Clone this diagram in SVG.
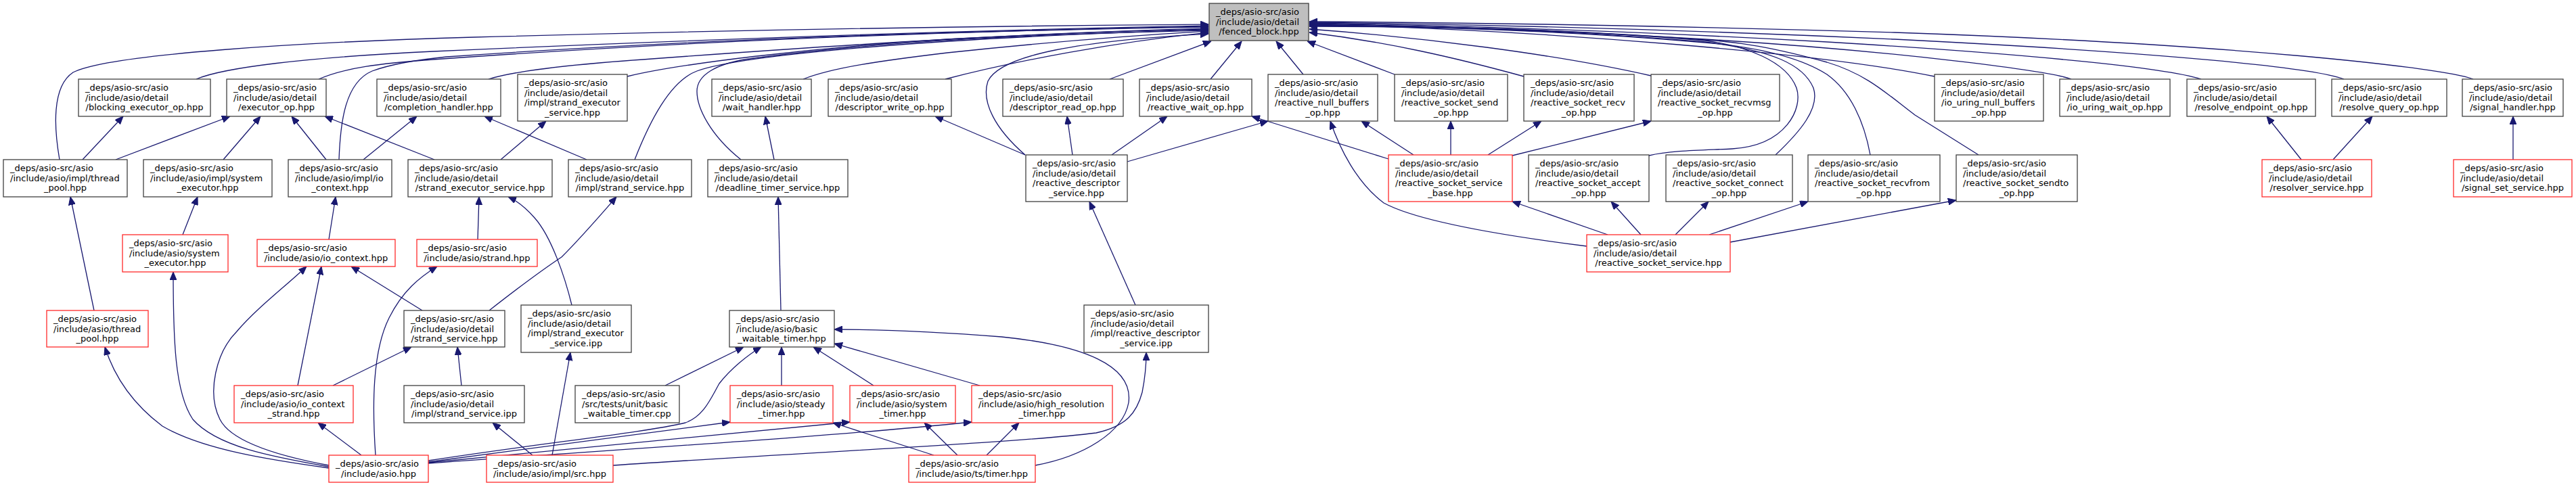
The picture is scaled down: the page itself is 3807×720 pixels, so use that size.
<svg xmlns="http://www.w3.org/2000/svg" width="3807" height="720" viewBox="0 0 3807 720">
<defs>
<marker id="ah" markerUnits="userSpaceOnUse" markerWidth="12" markerHeight="10" refX="12" refY="5" orient="auto"><path d="M0,0 L12,5 L0,10 z" fill="#191970" stroke="#191970" stroke-width="1"/></marker>
</defs>
<style>
rect{fill:#fff;stroke:#404040;stroke-width:1.3}
.r rect{stroke:#ff2a2a}
.root rect{fill:#bfbfbf}
text{font-family:"DejaVu Sans",sans-serif;font-size:13px;fill:#000}
.m{text-anchor:middle}
#edges path{fill:none;stroke:#191970;stroke-width:1.3;marker-end:url(#ah)}
</style>
<rect x="0" y="0" width="3807" height="720" style="fill:#fff;stroke:none"/>
<g id="edges">
<path d="M88,236 C80,190 76,128 108,107 C160,80 450,62 700,55 C1100,44 1500,38 1786,36"/>
<path d="M290,117 C330,100 450,85 640,76 C1000,60 1400,45 1786,38"/>
<path d="M471,117 C510,100 560,94 640,88 C1000,62 1400,46 1786,39"/>
<path d="M501,236 C503,180 510,122 550,105 C580,94 620,88 660,84 C1000,60 1400,46 1786,40"/>
<path d="M722,117 C760,105 850,95 950,88 C1300,62 1550,48 1786,42"/>
<path d="M927,113 C1000,95 1200,70 1400,58 C1550,50 1680,45 1786,43"/>
<path d="M938,236 C960,180 990,120 1030,105 C1100,80 1400,55 1786,44"/>
<path d="M1095,236 C1050,200 1030,160 1030,135 C1030,110 1060,95 1100,88 C1300,60 1550,50 1786,45"/>
<path d="M1187,117 C1230,100 1300,90 1400,78 C1550,62 1680,52 1786,46"/>
<path d="M1397,117 C1500,90 1650,62 1786,48"/>
<path d="M1515,229 C1470,190 1450,150 1460,120 C1480,80 1600,60 1786,50"/>
<path d="M1640,117 L1790,61"/>
<path d="M1789,117 L1835,61"/>
<path d="M1926,110 L1886,61"/>
<path d="M2061,110 L1932,61"/>
<path d="M2252,113 C2150,85 2050,62 1935,48"/>
<path d="M2440,112 C2300,80 2100,55 1935,43"/>
<path d="M2437,230 C2470,222 2520,222 2560,220 C2640,215 2665,160 2655,130 C2640,90 2580,68 2520,60 C2300,42 2100,38 1935,37"/>
<path d="M2624,229 C2660,195 2690,160 2680,130 C2665,95 2620,75 2520,62 C2300,44 2100,38 1935,38"/>
<path d="M2764,229 C2755,180 2735,135 2700,110 C2660,85 2600,70 2520,63 C2300,44 2100,39 1935,39"/>
<path d="M2924,229 L2830,170 C2790,140 2760,110 2700,92 C2620,70 2570,62 2520,59 C2300,42 2100,38 1935,38"/>
<path d="M2859,113 C2700,80 2300,45 1935,36"/>
<path d="M3061,117 C3030,105 2800,75 2520,58 C2300,45 2100,38 1935,35"/>
<path d="M3253,117 C3200,100 3000,80 2700,62 C2400,45 2100,37 1935,34"/>
<path d="M3464,117 C3420,100 3200,78 2800,58 C2400,40 2100,35 1935,33"/>
<path d="M3655,117 C3610,100 3300,65 2800,48 C2400,36 2100,33 1935,32"/>
<path d="M122,236 L182,172"/>
<path d="M171,236 L340,172"/>
<path d="M330,236 L385,172"/>
<path d="M482,236 L431,172"/>
<path d="M642,236 L480,172"/>
<path d="M537,236 L616,172"/>
<path d="M867,236 L716,172"/>
<path d="M740,236 L807,179"/>
<path d="M1144,236 L1131,172"/>
<path d="M1515,229 L1382,172"/>
<path d="M1585,229 L1577,172"/>
<path d="M1643,229 L1725,172"/>
<path d="M1666,239 L1874,179"/>
<path d="M2052,235 L1850,172"/>
<path d="M2089,229 L2012,179"/>
<path d="M2144,229 L2144,179"/>
<path d="M2199,229 L2278,179"/>
<path d="M2235,230 L2440,179"/>
<path d="M2376,347 L2235,298"/>
<path d="M2425,347 L2381,298"/>
<path d="M2476,347 L2525,298"/>
<path d="M2526,347 L2672,298"/>
<path d="M2557,358 L2891,296"/>
<path d="M2345,364 C2250,352 2100,330 2045,300 C2005,270 1980,220 1966,179"/>
<path d="M3401,236 L3350,172"/>
<path d="M3448,236 L3506,172"/>
<path d="M3714,236 L3714,172"/>
<path d="M139,459 L104,291"/>
<path d="M270,347 L292,291"/>
<path d="M486,354 L496,291"/>
<path d="M706,354 L708,291"/>
<path d="M845,451 C835,410 815,350 790,322 C775,305 760,295 751,291"/>
<path d="M723,459 C760,430 800,400 830,380 C860,350 890,315 911,291"/>
<path d="M624,459 L519,394"/>
<path d="M440,570 L475,394"/>
<path d="M492,570 L608,513"/>
<path d="M534,673 L470,625"/>
<path d="M486,692 C400,680 300,665 240,630 C200,600 170,560 155,513"/>
<path d="M486,690 C400,675 320,660 285,620 C258,580 256,500 256,402"/>
<path d="M486,688 C400,672 340,650 325,620 C305,580 320,520 350,490 C380,455 420,425 453,394"/>
<path d="M555,673 C550,600 550,520 575,470 C595,430 620,410 646,394"/>
<path d="M682,570 L676,513"/>
<path d="M787,673 L728,625"/>
<path d="M816,673 L843,521"/>
<path d="M1154,459 L1150,291"/>
<path d="M983,570 L1099,513"/>
<path d="M633,681 C800,655 950,640 1013,625 C1040,615 1050,590 1063,567 C1080,545 1105,525 1125,513"/>
<path d="M1155,570 L1155,513"/>
<path d="M1291,570 L1202,513"/>
<path d="M1448,570 L1233,508"/>
<path d="M1530,688 C1600,675 1660,640 1668,595 C1675,540 1600,510 1480,498 C1380,490 1300,487 1233,487"/>
<path d="M633,683 L1079,624"/>
<path d="M633,684 C900,660 1100,640 1256,624"/>
<path d="M633,685 C900,665 1200,648 1436,624"/>
<path d="M1380,673 L1231,625"/>
<path d="M1415,673 L1366,625"/>
<path d="M1458,673 L1506,625"/>
<path d="M906,688 C1200,668 1500,655 1620,640 C1665,630 1680,610 1688,580 C1693,555 1694,540 1694,521"/>
<path d="M1678,451 L1610,298"/>
</g>
<g id="root" class="root"><rect x="1787" y="5" width="147" height="55"/><text x="1797" y="22">_deps/asio-src/asio</text><text x="1797" y="37">/include/asio/detail</text><text class="m" x="1860.5" y="51">/fenced_block.hpp</text></g>
<g id="n_blocking"><rect x="116" y="117" width="195" height="55"/><text x="126" y="134">_deps/asio-src/asio</text><text x="126" y="149">/include/asio/detail</text><text class="m" x="213.5" y="163">/blocking_executor_op.hpp</text></g>
<g id="n_executor_op"><rect x="335" y="117" width="147" height="55"/><text x="345" y="134">_deps/asio-src/asio</text><text x="345" y="149">/include/asio/detail</text><text class="m" x="408.5" y="163">/executor_op.hpp</text></g>
<g id="n_completion"><rect x="557" y="117" width="183" height="55"/><text x="567" y="134">_deps/asio-src/asio</text><text x="567" y="149">/include/asio/detail</text><text class="m" x="648.5" y="163">/completion_handler.hpp</text></g>
<g id="n_impl_strand_exec_svc_hpp"><rect x="765" y="110" width="162" height="69"/><text x="775" y="127">_deps/asio-src/asio</text><text x="775" y="141.7">/include/asio/detail</text><text x="775" y="156.4">/impl/strand_executor</text><text class="m" x="846" y="171">_service.hpp</text></g>
<g id="n_wait_handler"><rect x="1052" y="117" width="147" height="55"/><text x="1062" y="134">_deps/asio-src/asio</text><text x="1062" y="149">/include/asio/detail</text><text class="m" x="1125.5" y="163">/wait_handler.hpp</text></g>
<g id="n_desc_write"><rect x="1224" y="117" width="182" height="55"/><text x="1234" y="134">_deps/asio-src/asio</text><text x="1234" y="149">/include/asio/detail</text><text class="m" x="1315" y="163">/descriptor_write_op.hpp</text></g>
<g id="n_desc_read"><rect x="1482" y="117" width="178" height="55"/><text x="1492" y="134">_deps/asio-src/asio</text><text x="1492" y="149">/include/asio/detail</text><text class="m" x="1571" y="163">/descriptor_read_op.hpp</text></g>
<g id="n_reactive_wait"><rect x="1684" y="117" width="166" height="55"/><text x="1694" y="134">_deps/asio-src/asio</text><text x="1694" y="149">/include/asio/detail</text><text class="m" x="1767" y="163">/reactive_wait_op.hpp</text></g>
<g id="n_null_buffers"><rect x="1874" y="110" width="162" height="69"/><text x="1884" y="127">_deps/asio-src/asio</text><text x="1884" y="141.7">/include/asio/detail</text><text x="1884" y="156.4">/reactive_null_buffers</text><text class="m" x="1955" y="171">_op.hpp</text></g>
<g id="n_send"><rect x="2061" y="110" width="167" height="69"/><text x="2071" y="127">_deps/asio-src/asio</text><text x="2071" y="141.7">/include/asio/detail</text><text x="2071" y="156.4">/reactive_socket_send</text><text class="m" x="2144.5" y="171">_op.hpp</text></g>
<g id="n_recv"><rect x="2252" y="110" width="163" height="69"/><text x="2262" y="127">_deps/asio-src/asio</text><text x="2262" y="141.7">/include/asio/detail</text><text x="2262" y="156.4">/reactive_socket_recv</text><text class="m" x="2333.5" y="171">_op.hpp</text></g>
<g id="n_recvmsg"><rect x="2440" y="110" width="190" height="69"/><text x="2450" y="127">_deps/asio-src/asio</text><text x="2450" y="141.7">/include/asio/detail</text><text x="2450" y="156.4">/reactive_socket_recvmsg</text><text class="m" x="2535" y="171">_op.hpp</text></g>
<g id="n_uring_null"><rect x="2859" y="110" width="161" height="69"/><text x="2869" y="127">_deps/asio-src/asio</text><text x="2869" y="141.7">/include/asio/detail</text><text x="2869" y="156.4">/io_uring_null_buffers</text><text class="m" x="2939.5" y="171">_op.hpp</text></g>
<g id="n_uring_wait"><rect x="3044" y="117" width="163" height="55"/><text x="3054" y="134">_deps/asio-src/asio</text><text x="3054" y="149">/include/asio/detail</text><text class="m" x="3125.5" y="163">/io_uring_wait_op.hpp</text></g>
<g id="n_resolve_ep"><rect x="3232" y="117" width="190" height="55"/><text x="3242" y="134">_deps/asio-src/asio</text><text x="3242" y="149">/include/asio/detail</text><text class="m" x="3327" y="163">/resolve_endpoint_op.hpp</text></g>
<g id="n_resolve_q"><rect x="3446" y="117" width="170" height="55"/><text x="3456" y="134">_deps/asio-src/asio</text><text x="3456" y="149">/include/asio/detail</text><text class="m" x="3531" y="163">/resolve_query_op.hpp</text></g>
<g id="n_signal_handler"><rect x="3639" y="117" width="149" height="55"/><text x="3649" y="134">_deps/asio-src/asio</text><text x="3649" y="149">/include/asio/detail</text><text class="m" x="3713.5" y="163">/signal_handler.hpp</text></g>
<g id="n_impl_thread_pool"><rect x="5" y="236" width="183" height="55"/><text x="15" y="253">_deps/asio-src/asio</text><text x="15" y="268">/include/asio/impl/thread</text><text class="m" x="96.5" y="282">_pool.hpp</text></g>
<g id="n_impl_system_exec"><rect x="212" y="236" width="190" height="55"/><text x="222" y="253">_deps/asio-src/asio</text><text x="222" y="268">/include/asio/impl/system</text><text class="m" x="307" y="282">_executor.hpp</text></g>
<g id="n_impl_io_context"><rect x="426" y="236" width="153" height="55"/><text x="436" y="253">_deps/asio-src/asio</text><text x="436" y="268">/include/asio/impl/io</text><text class="m" x="502.5" y="282">_context.hpp</text></g>
<g id="n_strand_exec_svc"><rect x="603" y="236" width="213" height="55"/><text x="613" y="253">_deps/asio-src/asio</text><text x="613" y="268">/include/asio/detail</text><text class="m" x="709.5" y="282">/strand_executor_service.hpp</text></g>
<g id="n_impl_strand_svc_hpp"><rect x="840" y="236" width="182" height="55"/><text x="850" y="253">_deps/asio-src/asio</text><text x="850" y="268">/include/asio/detail</text><text class="m" x="931" y="282">/impl/strand_service.hpp</text></g>
<g id="n_deadline"><rect x="1046" y="236" width="207" height="55"/><text x="1056" y="253">_deps/asio-src/asio</text><text x="1056" y="268">/include/asio/detail</text><text class="m" x="1149.5" y="282">/deadline_timer_service.hpp</text></g>
<g id="n_reactive_desc_svc"><rect x="1516" y="229" width="150" height="69"/><text x="1526" y="246">_deps/asio-src/asio</text><text x="1526" y="260.7">/include/asio/detail</text><text x="1526" y="275.4">/reactive_descriptor</text><text class="m" x="1591" y="290">_service.hpp</text></g>
<g id="n_rs_service_base" class="r"><rect x="2052" y="229" width="183" height="69"/><text x="2062" y="246">_deps/asio-src/asio</text><text x="2062" y="260.7">/include/asio/detail</text><text x="2062" y="275.4">/reactive_socket_service</text><text class="m" x="2143.5" y="290">_base.hpp</text></g>
<g id="n_accept"><rect x="2259" y="229" width="178" height="69"/><text x="2269" y="246">_deps/asio-src/asio</text><text x="2269" y="260.7">/include/asio/detail</text><text x="2269" y="275.4">/reactive_socket_accept</text><text class="m" x="2348" y="290">_op.hpp</text></g>
<g id="n_connect"><rect x="2462" y="229" width="187" height="69"/><text x="2472" y="246">_deps/asio-src/asio</text><text x="2472" y="260.7">/include/asio/detail</text><text x="2472" y="275.4">/reactive_socket_connect</text><text class="m" x="2555.5" y="290">_op.hpp</text></g>
<g id="n_recvfrom"><rect x="2672" y="229" width="195" height="69"/><text x="2682" y="246">_deps/asio-src/asio</text><text x="2682" y="260.7">/include/asio/detail</text><text x="2682" y="275.4">/reactive_socket_recvfrom</text><text class="m" x="2769.5" y="290">_op.hpp</text></g>
<g id="n_sendto"><rect x="2891" y="229" width="179" height="69"/><text x="2901" y="246">_deps/asio-src/asio</text><text x="2901" y="260.7">/include/asio/detail</text><text x="2901" y="275.4">/reactive_socket_sendto</text><text class="m" x="2980.5" y="290">_op.hpp</text></g>
<g id="n_resolver_svc" class="r"><rect x="3343" y="236" width="162" height="55"/><text x="3353" y="253">_deps/asio-src/asio</text><text x="3353" y="268">/include/asio/detail</text><text class="m" x="3424" y="282">/resolver_service.hpp</text></g>
<g id="n_signal_set_svc" class="r"><rect x="3626" y="236" width="175" height="55"/><text x="3636" y="253">_deps/asio-src/asio</text><text x="3636" y="268">/include/asio/detail</text><text class="m" x="3713.5" y="282">/signal_set_service.hpp</text></g>
<g id="n_system_executor" class="r"><rect x="181" y="347" width="156" height="55"/><text x="191" y="364">_deps/asio-src/asio</text><text x="191" y="379">/include/asio/system</text><text class="m" x="259" y="393">_executor.hpp</text></g>
<g id="n_io_context" class="r"><rect x="380" y="354" width="204" height="40"/><text x="390" y="371">_deps/asio-src/asio</text><text class="m" x="482" y="386">/include/asio/io_context.hpp</text></g>
<g id="n_strand" class="r"><rect x="616" y="354" width="178" height="40"/><text x="626" y="371">_deps/asio-src/asio</text><text class="m" x="705" y="386">/include/asio/strand.hpp</text></g>
<g id="n_rs_service" class="r"><rect x="2345" y="347" width="212" height="55"/><text x="2355" y="364">_deps/asio-src/asio</text><text x="2355" y="379">/include/asio/detail</text><text class="m" x="2451" y="393">/reactive_socket_service.hpp</text></g>
<g id="n_thread_pool" class="r"><rect x="69" y="459" width="150" height="54"/><text x="79" y="476">_deps/asio-src/asio</text><text x="79" y="491">/include/asio/thread</text><text class="m" x="144" y="505">_pool.hpp</text></g>
<g id="n_strand_svc"><rect x="597" y="459" width="149" height="54"/><text x="607" y="476">_deps/asio-src/asio</text><text x="607" y="491">/include/asio/detail</text><text class="m" x="671.5" y="505">/strand_service.hpp</text></g>
<g id="n_impl_strand_exec_ipp"><rect x="770" y="451" width="163" height="70"/><text x="780" y="468">_deps/asio-src/asio</text><text x="780" y="482.7">/include/asio/detail</text><text x="780" y="497.4">/impl/strand_executor</text><text class="m" x="851.5" y="512">_service.ipp</text></g>
<g id="n_bwt"><rect x="1078" y="459" width="155" height="54"/><text x="1088" y="476">_deps/asio-src/asio</text><text x="1088" y="491">/include/asio/basic</text><text class="m" x="1155.5" y="505">_waitable_timer.hpp</text></g>
<g id="n_rds_ipp"><rect x="1602" y="451" width="184" height="70"/><text x="1612" y="468">_deps/asio-src/asio</text><text x="1612" y="482.7">/include/asio/detail</text><text x="1612" y="497.4">/impl/reactive_descriptor</text><text class="m" x="1694" y="512">_service.ipp</text></g>
<g id="n_io_context_strand" class="r"><rect x="346" y="570" width="176" height="55"/><text x="356" y="587">_deps/asio-src/asio</text><text x="356" y="602">/include/asio/io_context</text><text class="m" x="434" y="616">_strand.hpp</text></g>
<g id="n_impl_strand_svc_ipp"><rect x="597" y="570" width="178" height="55"/><text x="607" y="587">_deps/asio-src/asio</text><text x="607" y="602">/include/asio/detail</text><text class="m" x="686" y="616">/impl/strand_service.ipp</text></g>
<g id="n_unit_bwt"><rect x="850" y="570" width="154" height="55"/><text x="860" y="587">_deps/asio-src/asio</text><text x="860" y="602">/src/tests/unit/basic</text><text class="m" x="927" y="616">_waitable_timer.cpp</text></g>
<g id="n_steady" class="r"><rect x="1079" y="570" width="152" height="55"/><text x="1089" y="587">_deps/asio-src/asio</text><text x="1089" y="602">/include/asio/steady</text><text class="m" x="1155" y="616">_timer.hpp</text></g>
<g id="n_system_timer" class="r"><rect x="1256" y="570" width="156" height="55"/><text x="1266" y="587">_deps/asio-src/asio</text><text x="1266" y="602">/include/asio/system</text><text class="m" x="1334" y="616">_timer.hpp</text></g>
<g id="n_high_res" class="r"><rect x="1436" y="570" width="208" height="55"/><text x="1446" y="587">_deps/asio-src/asio</text><text x="1446" y="602">/include/asio/high_resolution</text><text class="m" x="1540" y="616">_timer.hpp</text></g>
<g id="n_asio" class="r"><rect x="486" y="673" width="147" height="40"/><text x="496" y="690">_deps/asio-src/asio</text><text class="m" x="559.5" y="705">/include/asio.hpp</text></g>
<g id="n_src" class="r"><rect x="719" y="673" width="187" height="40"/><text x="729" y="690">_deps/asio-src/asio</text><text class="m" x="812.5" y="705">/include/asio/impl/src.hpp</text></g>
<g id="n_ts_timer" class="r"><rect x="1343" y="673" width="187" height="40"/><text x="1353" y="690">_deps/asio-src/asio</text><text class="m" x="1436.5" y="705">/include/asio/ts/timer.hpp</text></g>
</svg>
